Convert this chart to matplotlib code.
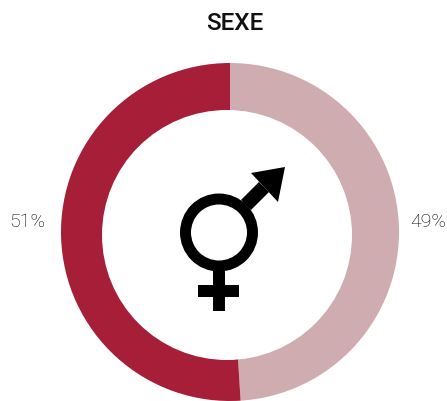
import matplotlib
matplotlib.use("Agg")
import matplotlib.pyplot as plt
from matplotlib.patches import Circle, Polygon, Rectangle

labels = ["49%", "51%"]
shares = [49, 51]
colors = ["#cfacb0", "#a61e38"]

W, H = 447, 401
CX, CY = 230, 232
R_OUT = 169

fig = plt.figure(figsize=(W / 100, H / 100), dpi=100)
# pie axes sized in pixels so the ring can run off the bottom edge like the original
ax = fig.add_axes([(CX - R_OUT) / W, 1 - (CY + R_OUT) / H, 2 * R_OUT / W, 2 * R_OUT / H])
ax.pie(shares, colors=colors, startangle=90, counterclock=False, radius=1,
       wedgeprops={"linewidth": 0})
ax.set_xlim(-1, 1)
ax.set_ylim(-1, 1)

fig.text(234.5 / W, 1 - 23 / H, "SEXE", ha="center", va="center", fontsize=17.5,
         family="Roboto", weight="medium", color="#111111")
fig.text(27 / W, 1 - 222 / H, labels[1], ha="center", va="center", fontsize=14,
         family="Roboto", weight="light", color="#000000")
fig.text(428 / W, 1 - 222 / H, labels[0], ha="center", va="center", fontsize=14,
         family="Roboto", weight="light", color="#000000")

# hole and symbol in pixel coordinates, the hole sits a little off centre in the original
sym = fig.add_axes([0, 0, 1, 1], facecolor="none")
sym.set_xlim(0, W)
sym.set_ylim(H, 0)
sym.axis("off")
sym.add_patch(Circle((227, 235), 125, color="white", lw=0))
sym.add_patch(Circle((219, 232.5), 33.5, fill=False, ec="black", lw=7.9))
sym.add_patch(Rectangle((213, 268), 11.5, 43, color="black", lw=0))
sym.add_patch(Rectangle((198, 285), 41, 12, color="black", lw=0))
sym.add_patch(Polygon([(241, 200), (259, 182), (269, 192), (251, 210)], color="black", lw=0))
sym.add_patch(Polygon([(251, 173), (285, 167), (278, 202)], color="black", lw=0))

fig.savefig("out.png", dpi=100)
